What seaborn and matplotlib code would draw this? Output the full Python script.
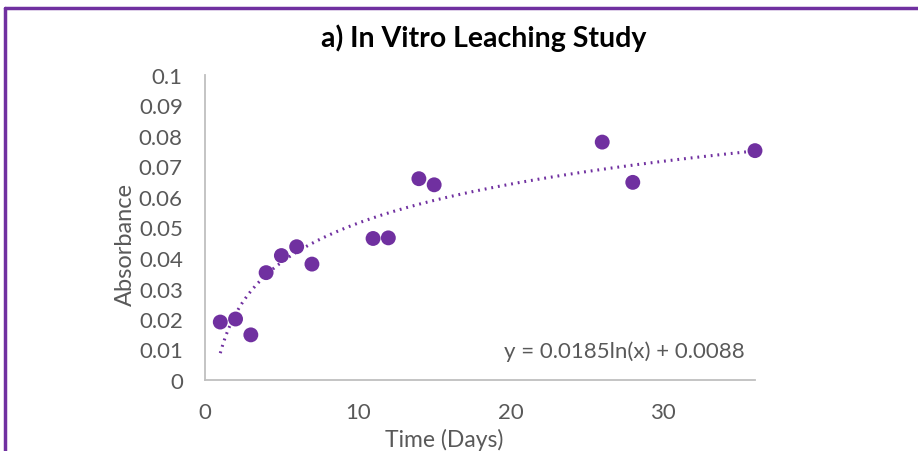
import numpy as np
import pandas as pd
import matplotlib
matplotlib.use("Agg")
import matplotlib.pyplot as plt
import seaborn as sns
from matplotlib.lines import Line2D

# Data
days = [1, 2, 3, 4, 5, 6, 7, 11, 12, 14, 15, 26, 28, 36]
absorbance = [0.0190, 0.0200, 0.0148, 0.0352, 0.0408, 0.0437, 0.0380,
              0.0464, 0.0466, 0.0660, 0.0640, 0.0780, 0.0648, 0.0752]
# Logarithmic trendline coefficients shown on the chart
trend_a = 0.0185
trend_b = 0.0088
y_ticks = [0, 0.01, 0.02, 0.03, 0.04, 0.05, 0.06, 0.07, 0.08, 0.09, 0.1]
y_tick_labels = ["0", "0.01", "0.02", "0.03", "0.04", "0.05", "0.06", "0.07", "0.08", "0.09", "0.1"]
x_ticks = [0, 10, 20, 30]

sns.set_theme(style="white")
plt.rcParams['font.family'] = ['Lato', 'DejaVu Sans']

purple = "#7030A0"
grey_text = "#595959"

fig = plt.figure(figsize=(9.18, 4.52), dpi=100)
ax = fig.add_axes([205/918, 71/452, 550/918, 305/452])

df = pd.DataFrame({"Time (Days)": days, "Absorbance": absorbance})
sns.scatterplot(data=df, x="Time (Days)", y="Absorbance", ax=ax,
                color=purple, s=115, edgecolor="none", zorder=3, clip_on=False)

xt = np.linspace(min(days), max(days), 200)
trend = pd.DataFrame({"x": xt, "y": trend_a * np.log(xt) + trend_b})
sns.lineplot(data=trend, x="x", y="y", ax=ax, color=purple, linewidth=2.2,
             linestyle=(0, (0.6, 1.6)), zorder=2)

ax.set_xlim(0, 36)
ax.set_ylim(0, 0.1)
ax.set_yticks(y_ticks)
ax.set_yticklabels(y_tick_labels)
ax.set_xticks(x_ticks)
ax.tick_params(axis='x', labelsize=16, colors=grey_text, length=0, pad=16)
ax.tick_params(axis='y', labelsize=16, colors=grey_text, length=0, pad=16)
ax.set_xlabel("Time (Days)", fontsize=16.5, color=grey_text)
ax.set_ylabel("Absorbance", fontsize=17, color=grey_text)
ax.xaxis.set_label_coords(0.435, -0.158)
ax.yaxis.set_label_coords(-0.126, 0.449)

for s in ["top", "right"]:
    ax.spines[s].set_visible(False)
for s in ["left", "bottom"]:
    ax.spines[s].set_color("#bfbfbf")
    ax.spines[s].set_linewidth(1.3)

ax.text(0.762, 0.095, "y = 0.0185ln(x) + 0.0088", transform=ax.transAxes,
        ha="center", va="center", fontsize=16, color=grey_text)

fig.text(0.527, 0.916, "a) In Vitro Leaching Study", ha="center", va="center",
         fontsize=20.5, fontweight="bold", color="black")

# purple frame (top and left)
fig.add_artist(Line2D([5/918, 1.0], [1 - 9/452, 1 - 9/452], color=purple,
                      linewidth=2.5, transform=fig.transFigure))
fig.add_artist(Line2D([5/918, 5/918], [0, 1 - 9/452], color=purple,
                      linewidth=2.5, transform=fig.transFigure))

fig.savefig("out.png", dpi=100)
